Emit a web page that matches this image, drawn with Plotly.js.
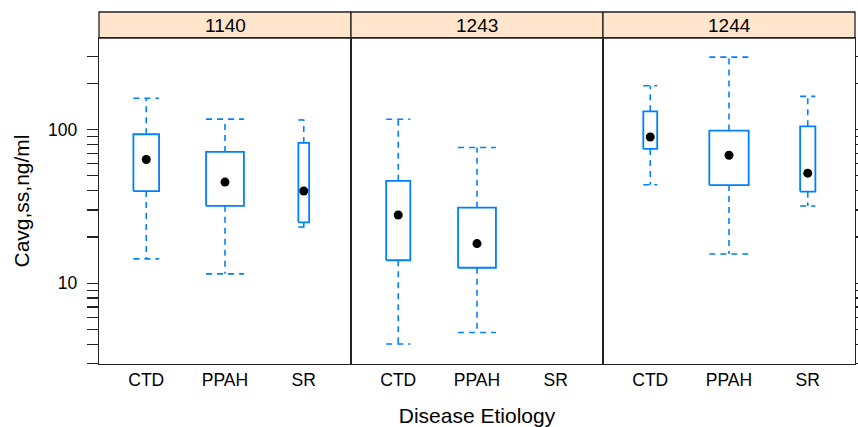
<!DOCTYPE html>
<html>
<head>
<meta charset="utf-8">
<script src="https://cdn.plot.ly/plotly-3.0.1.min.js"></script>
<style>html,body{margin:0;padding:0;background:#fff;}#chart{width:858px;height:427px;}</style>
</head>
<body>
<div id="chart"></div>
<script>
// ---- data (Cavg,ss in ng/ml, log scale) ----
const panels = ['1140', '1243', '1244'];
const categories = ['CTD', 'PPAH', 'SR'];

const upper1140  = [160, 117, 115.5];
const q3_1140    = [93.2, 71.5, 81.8];
const median1140 = [63.8, 45.5, 39.8];
const q1_1140    = [39.8, 31.9, 24.9];
const lower1140  = [14.4, 11.5, 23.2];
const n1140      = [17, 37, 3];

const upper1243  = [116.7, 76.4, null];
const q3_1243    = [46.4, 31.0, null];
const median1243 = [27.8, 18.1, null];
const q1_1243    = [14.1, 12.6, null];
const lower1243  = [4.02, 4.78, null];
const n1243      = [15, 37, 0];

const upper1244  = [193, 296, 164.5];
const q3_1244    = [131.5, 98.5, 105];
const median1244 = [89.5, 68.1, 52];
const q1_1244    = [74.8, 43.5, 39.5];
const lower1244  = [43.7, 15.5, 31.8];
const n1244      = [5, 40, 6];

const yTickVals = [3, 4, 5, 6, 7, 8, 9, 10, 20, 30, 40, 50, 60, 70, 80, 90, 100, 200, 300];
const yTickText = yTickVals.map(v => (v === 10 || v === 100) ? String(v) : '');

// ---- build ----
const stats = [
  {up: upper1140, q3: q3_1140, med: median1140, q1: q1_1140, lo: lower1140, n: n1140},
  {up: upper1243, q3: q3_1243, med: median1243, q1: q1_1243, lo: lower1243, n: n1243},
  {up: upper1244, q3: q3_1244, med: median1244, q1: q1_1244, lo: lower1244, n: n1244}
];
const allN = [].concat(n1140, n1243, n1244);
const maxSqrtN = Math.sqrt(Math.max.apply(null, allN));
const BOXW = 0.5; // lattice box.ratio = 1 -> max box width 0.5

const BLUE = '#0080ff';
const traces = [];
stats.forEach((s, p) => {
  const xa = p === 0 ? 'x' : 'x' + (p + 1);
  const ya = p === 0 ? 'y' : 'y' + (p + 1);
  const bx = [], by = [], wx = [], wy = [], mx = [], my = [];
  categories.forEach((c, i) => {
    if (s.med[i] == null) return;
    const xc = i + 1;
    const hw = BOXW * Math.sqrt(s.n[i]) / maxSqrtN / 2;
    bx.push(xc - hw, xc + hw, xc + hw, xc - hw, xc - hw, null);
    by.push(s.q1[i], s.q1[i], s.q3[i], s.q3[i], s.q1[i], null);
    wx.push(xc, xc, null, xc, xc, null, xc - hw, xc + hw, null, xc - hw, xc + hw, null);
    wy.push(s.q3[i], s.up[i], null, s.q1[i], s.lo[i], null, s.up[i], s.up[i], null, s.lo[i], s.lo[i], null);
    mx.push(xc); my.push(s.med[i]);
  });
  traces.push({type: 'scatter', mode: 'lines', x: wx, y: wy, xaxis: xa, yaxis: ya,
    line: {color: BLUE, width: 1.6, dash: '6px,5px'}, hoverinfo: 'skip', showlegend: false});
  traces.push({type: 'scatter', mode: 'lines', x: bx, y: by, xaxis: xa, yaxis: ya,
    line: {color: BLUE, width: 1.8}, hoverinfo: 'skip', showlegend: false});
  traces.push({type: 'scatter', mode: 'markers', x: mx, y: my, xaxis: xa, yaxis: ya,
    marker: {color: '#000', size: 9}, showlegend: false});
});

const FONT = 'Liberation Sans, Arial, Helvetica, sans-serif';
const LINEC = '#222';
function xAxis(dom, withTitle) {
  const a = {
    domain: dom, range: [0.4, 3.6], tickmode: 'array', tickvals: [1, 2, 3], ticktext: categories,
    ticks: '', showgrid: false, zeroline: false, showline: true, mirror: true,
    linecolor: LINEC, linewidth: 1.3, tickfont: {size: 17.5, color: '#000', family: FONT},
    fixedrange: true
  };
  if (withTitle) a.title = {text: 'Disease Etiology', font: {size: 21, color: '#000', family: FONT}, standoff: 21};
  return a;
}
const commonY = {
  type: 'log', range: [0.474, 2.596], tickmode: 'array', tickvals: yTickVals, ticktext: yTickText,
  showgrid: false, zeroline: false, showline: true, mirror: true, linecolor: LINEC, linewidth: 1.3,
  tickcolor: LINEC, tickwidth: 1.3, ticklen: 11, tickfont: {size: 17.5, color: '#000', family: FONT},
  fixedrange: true
};

const stripH = 26 / 326;
const shapes = [], annotations = [];
panels.forEach((name, p) => {
  const xr = (p === 0 ? 'x' : 'x' + (p + 1)) + ' domain';
  shapes.push({type: 'rect', xref: xr, yref: 'paper', x0: 0, x1: 1, y0: 1, y1: 1 + stripH,
    fillcolor: '#ffe5cc', line: {color: LINEC, width: 1.3}, layer: 'below'});
  annotations.push({xref: xr, yref: 'paper', x: 0.5, y: 1 + stripH / 2, text: name, showarrow: false,
    xanchor: 'center', yanchor: 'middle', font: {size: 19, color: '#000', family: FONT}});
});

const layout = {
  width: 858, height: 427,
  margin: {l: 99, r: 3, t: 38, b: 63},
  paper_bgcolor: '#fff', plot_bgcolor: '#fff',
  font: {family: FONT, color: '#000'},
  showlegend: false,
  xaxis: xAxis([0, 1/3], false),
  xaxis2: xAxis([1/3, 2/3], true),
  xaxis3: xAxis([2/3, 1], false),
  yaxis: Object.assign({}, commonY, {anchor: 'x', ticks: 'outside', ticklabelstandoff: 6,
    title: {text: 'Cavg,ss,ng/ml', font: {size: 21, color: '#000', family: FONT}, standoff: 12}}),
  yaxis2: Object.assign({}, commonY, {anchor: 'x2', matches: 'y', ticks: '', showticklabels: false}),
  yaxis3: Object.assign({}, commonY, {anchor: 'x3', matches: 'y', side: 'right', ticks: 'outside', showticklabels: false}),
  shapes: shapes,
  annotations: annotations
};

Plotly.newPlot('chart', traces, layout, {displayModeBar: false, staticPlot: true});
</script>
</body>
</html>
